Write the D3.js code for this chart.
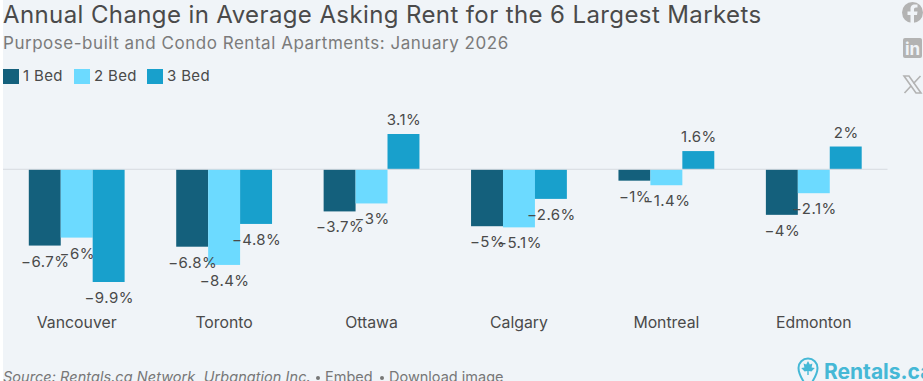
<!DOCTYPE html>
<html>
<head>
<meta charset="utf-8">
<script src="https://cdn.jsdelivr.net/npm/d3@7"></script>
<style>
  html, body { margin: 0; padding: 0; background: #fff; overflow: hidden; }
  text { font-family: Inter, "Noto Sans", sans-serif; }
</style>
</head>
<body>
<svg id="chart" width="923" height="381"></svg>
<script>
const markets = ["Vancouver", "Toronto", "Ottawa", "Calgary", "Montreal", "Edmonton"];
const bedTypes = ["1 Bed", "2 Bed", "3 Bed"];
const oneBed = [-6.7, -6.8, -3.7, -5, -1, -4];
const twoBed = [-6, -8.4, -3, -5.1, -1.4, -2.1];
const threeBed = [-9.9, -4.8, 3.1, -2.6, 1.6, 2];
const bedColors = ["#14607c", "#6cdaff", "#18a0cc"];

const series = [oneBed, twoBed, threeBed];
const textColor = "#4a4a4a";
const greyIcon = "#b3b3b3";
const bgColor = "#f0f4f8";

const svg = d3.select("#chart");

svg.append("rect")
  .attr("x", 3).attr("y", 0)
  .attr("width", 920).attr("height", 381)
  .attr("fill", bgColor);

// title block
svg.append("text")
  .attr("x", 3).attr("y", 23)
  .attr("font-size", 24)
  .attr("letter-spacing", 0.39)
  .attr("fill", textColor)
  .text("Annual Change in Average Asking Rent for the 6 Largest Markets");

svg.append("text")
  .attr("x", 3).attr("y", 49)
  .attr("font-size", 17)
  .attr("letter-spacing", 0.53)
  .attr("fill", "#7b7b7b")
  .text("Purpose-built and Condo Rental Apartments: January 2026");

// legend
const legendX = [3, 74, 147];
bedTypes.forEach((name, i) => {
  svg.append("rect")
    .attr("x", legendX[i]).attr("y", 69)
    .attr("width", 16).attr("height", 15)
    .attr("fill", bedColors[i]);
  svg.append("text")
    .attr("x", legendX[i] + 20).attr("y", 81)
    .attr("font-size", 15)
    .attr("letter-spacing", 0.35)
    .attr("fill", textColor)
    .text(name);
});

// scales
const x0 = d3.scaleBand().domain(markets).range([3, 887.5]).paddingInner(0.35).paddingOuter(0.175);
const x1 = d3.scaleBand().domain(d3.range(3)).range([0, x0.bandwidth()]);
const y = d3.scaleLinear().domain([-9.9, 3.1]).range([282, 134]);

const fmt = v => (v < 0 ? "\u2212" : "") + Math.abs(v) + "%";

// bars
series.forEach((values, s) => {
  svg.append("g").selectAll("rect")
    .data(values)
    .join("rect")
    .attr("x", (d, i) => x0(markets[i]) + x1(s))
    .attr("y", d => Math.min(y(d), y(0)))
    .attr("width", x1.bandwidth())
    .attr("height", d => Math.abs(y(d) - y(0)))
    .attr("fill", bedColors[s]);
});

svg.append("line")
  .attr("x1", 3).attr("x2", 887.5)
  .attr("y1", y(0)).attr("y2", y(0))
  .attr("stroke", "#d6dae0")
  .attr("stroke-width", 1);

// value labels, drawn after all bars so they sit on top
series.forEach((values, s) => {
  svg.append("g").selectAll("text")
    .data(values)
    .join("text")
    .attr("x", (d, i) => x0(markets[i]) + x1(s) + x1.bandwidth() / 2 + 0.5)
    .attr("y", d => d < 0 ? y(d) + 21 : y(d) - 9)
    .attr("text-anchor", "middle")
    .attr("font-size", 15)
    .attr("letter-spacing", 0.45)
    .attr("fill", textColor)
    .text(fmt);
});

// market labels
svg.append("g").selectAll("text")
  .data(markets)
  .join("text")
  .attr("x", d => x0(d) + x0.bandwidth() / 2)
  .attr("y", 328)
  .attr("text-anchor", "middle")
  .attr("font-size", 15.8)
  .attr("fill", textColor)
  .text(d => d);

// footer
svg.append("text")
  .attr("x", 3).attr("y", 382)
  .attr("font-size", 14.5)
  .attr("letter-spacing", 0.05)
  .attr("font-style", "italic")
  .attr("fill", "#777")
  .text("Source: Rentals.ca Network, Urbanation Inc.");

const footerLinks = ["Embed", "Download image"];
const footerLinkX = [325, 389];
footerLinks.forEach((name, i) => {
  svg.append("circle")
    .attr("cx", footerLinkX[i] - 7).attr("cy", 378)
    .attr("r", 2).attr("fill", "#777");
  svg.append("text")
    .attr("x", footerLinkX[i]).attr("y", 382)
    .attr("font-size", 14.5)
    .attr("fill", "#777")
    .text(name);
});

// logo
const logo = svg.append("g").attr("transform", "translate(808,368)");
logo.append("path")
  .attr("d", "M0,20 C-6,12 -9.5,6 -9.5,0 A9.5,9.5 0 1 1 9.5,0 C9.5,6 6,12 0,20 Z")
  .attr("fill", "none").attr("stroke", "#45b8d6").attr("stroke-width", 2);
logo.append("path")
  .attr("d", "M0,-7 L1.8,-3.4 L4.4,-4.6 L3.6,-0.6 L6.8,0 L3.4,3.4 L0.7,3 L0.7,7 L-0.7,7 L-0.7,3 L-3.4,3.4 L-6.8,0 L-3.6,-0.6 L-4.4,-4.6 L-1.8,-3.4 Z")
  .attr("fill", "#45b8d6");
svg.append("text")
  .attr("x", 824).attr("y", 379)
  .attr("font-size", 21)
  .attr("font-weight", 700)
  .attr("fill", "#45b8d6")
  .text("Rentals.ca");

// share icons
const fb = svg.append("g").attr("transform", "translate(912.5,12.5)");
fb.append("circle").attr("r", 10.5).attr("fill", greyIcon);
fb.append("path")
  .attr("d", "M1.5,10.5 V2.5 H4.5 L5,-1 H1.5 V-3 C1.5,-4.3 2.2,-5 3.5,-5 H5 V-8 H2.5 C-0.8,-8 -2,-6 -2,-3.3 V-1 H-5 V2.5 H-2 V10.5 Z")
  .attr("fill", bgColor);

const li = svg.append("g").attr("transform", "translate(903,38)");
li.append("rect").attr("width", 19).attr("height", 20).attr("rx", 2).attr("fill", greyIcon);
li.append("text")
  .attr("x", 9.5).attr("y", 16.5)
  .attr("text-anchor", "middle")
  .attr("font-size", 17)
  .attr("font-weight", 700)
  .attr("fill", bgColor)
  .text("in");

const xIcon = svg.append("g").attr("transform", "translate(903,75)");
xIcon.append("path")
  .attr("d", "M1,1 H6 L18,18 H13 Z")
  .attr("fill", "none").attr("stroke", greyIcon).attr("stroke-width", 1.6);
xIcon.append("path")
  .attr("d", "M17.5,1 L10.5,8.5 M8,11 L1.5,18")
  .attr("fill", "none").attr("stroke", greyIcon).attr("stroke-width", 1.6);
</script>
</body>
</html>
